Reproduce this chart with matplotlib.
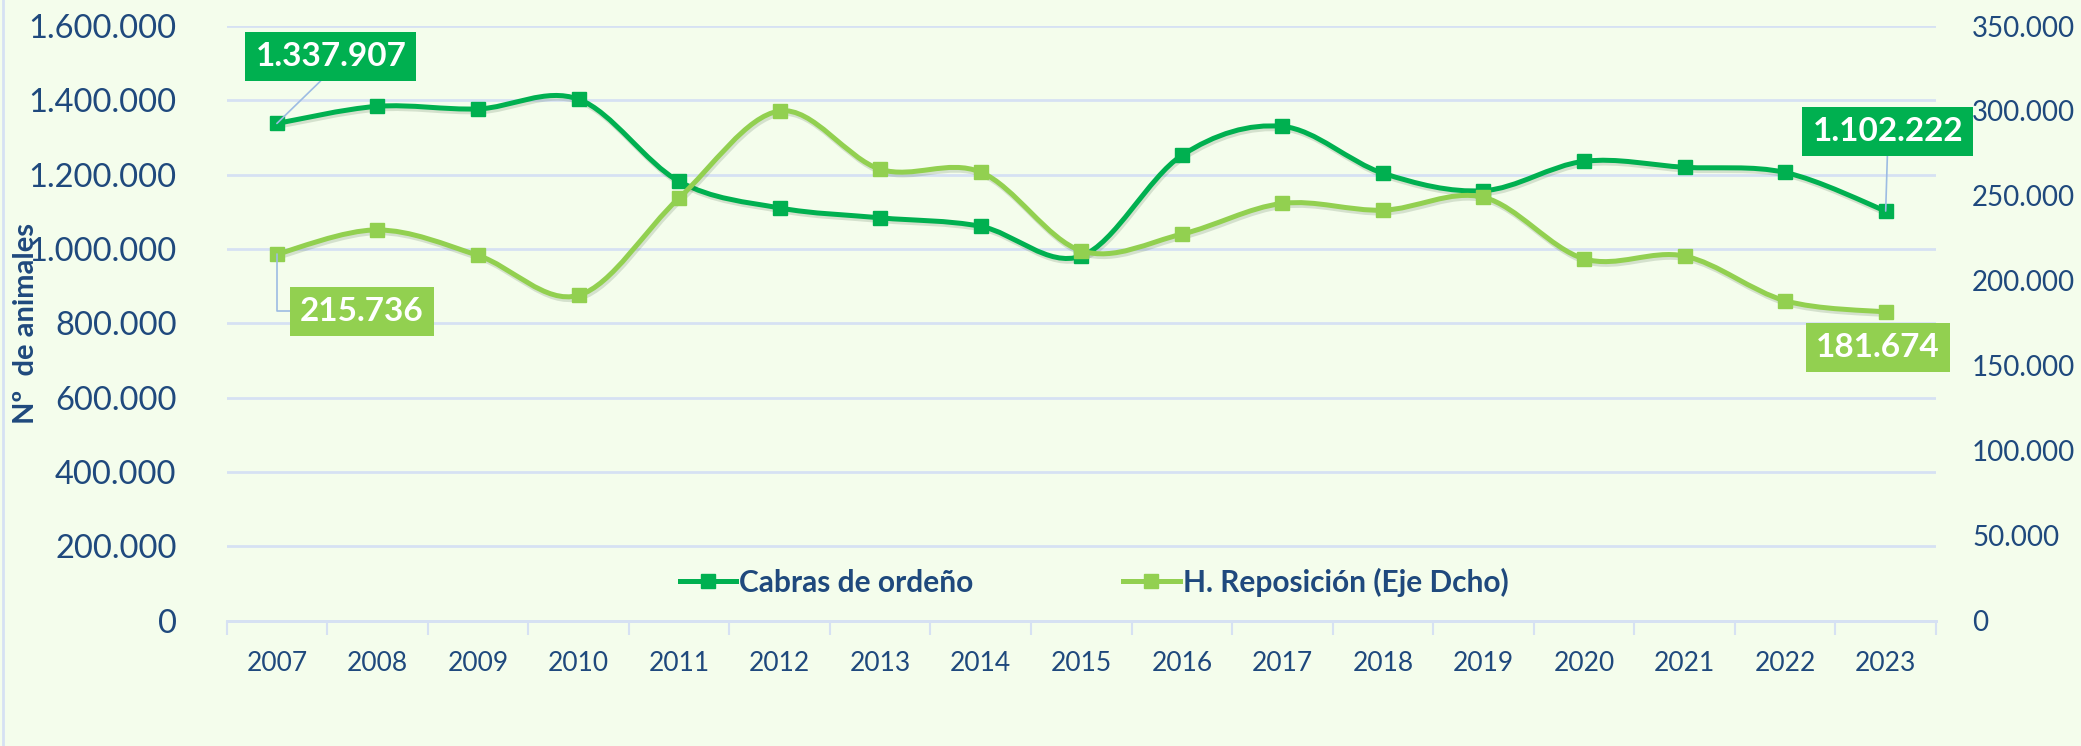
import numpy as np
import matplotlib.pyplot as plt
from matplotlib.path import Path
from matplotlib.patches import PathPatch
from matplotlib.lines import Line2D
import matplotlib.patheffects as pe
from matplotlib.ticker import FuncFormatter, FixedLocator

plt.rcParams['font.family'] = ['Lato', 'DejaVu Sans']

years = [str(y) for y in range(2007, 2024)]
cabras = [1337907, 1384000, 1377000, 1403000, 1182000, 1110500, 1084000, 1061000,
          981000, 1252000, 1330000, 1204000, 1157000, 1236000, 1220000, 1206000, 1102222]
reposicion = [215736, 230000, 215000, 191500, 248800, 300000, 265700, 264000,
              217700, 227500, 245600, 241600, 249200, 213000, 214600, 188300, 181674]

left_ticks = [0, 200000, 400000, 600000, 800000, 1000000, 1200000, 1400000, 1600000]
right_ticks = [0, 50000, 100000, 150000, 200000, 250000, 300000, 350000]

DARK = '#00B050'
LIGHT = '#92D050'
TXT = '#1F497D'
GRID = '#D6E1F3'
BG = '#F4FDEC'


def miles(v, pos=None):
    return f'{int(v):,}'.replace(',', '.')


def smooth_path(xs, ys):
    # excel style smoothed line as cubic bezier segments
    pts = np.column_stack([xs, ys]).astype(float)
    n = len(pts)
    verts = [pts[0]]
    codes = [Path.MOVETO]
    for i in range(n - 1):
        p0 = pts[max(i - 1, 0)]
        p1 = pts[i]
        p2 = pts[i + 1]
        p3 = pts[min(i + 2, n - 1)]
        c1 = p1 + (p2 - p0) / 6.0
        c2 = p2 - (p3 - p1) / 6.0
        verts += [c1, c2, p2]
        codes += [Path.CURVE4] * 3
    return Path(verts, codes)


fig = plt.figure(figsize=(20.81, 7.46), dpi=100, facecolor=BG)
ax = fig.add_axes([0.1089, 0.168, 0.8214, 0.7971])
ax.set_facecolor(BG)
ax2 = ax.twinx()

x = np.arange(len(years))
shadow = [pe.SimpleLineShadow(offset=(1, -2), alpha=0.15, shadow_color='#224422'), pe.Normal()]

p1 = PathPatch(smooth_path(x, cabras), facecolor='none', edgecolor=DARK, lw=3.6,
               capstyle='round', joinstyle='round', zorder=3, path_effects=shadow)
ax.add_patch(p1)
ax.plot(x, cabras, linestyle='none', marker='s', ms=10, color=DARK, zorder=4)

p2 = PathPatch(smooth_path(x, reposicion), facecolor='none', edgecolor=LIGHT, lw=3.6,
               capstyle='round', joinstyle='round', zorder=3, path_effects=shadow)
ax2.add_patch(p2)
ax2.plot(x, reposicion, linestyle='none', marker='s', ms=10, color=LIGHT, zorder=4)

ax.set_xlim(-0.5, len(years) - 0.5)
ax.set_ylim(0, 1600000)
ax2.set_ylim(0, 350000)

ax.yaxis.set_major_locator(FixedLocator(left_ticks))
ax.yaxis.set_major_formatter(FuncFormatter(miles))
ax2.yaxis.set_major_locator(FixedLocator(right_ticks))
ax2.yaxis.set_major_formatter(FuncFormatter(miles))

ax.set_xticks(x)
ax.set_xticklabels(years)
ax.set_xticks(np.arange(-0.5, len(years)), minor=True)
ax.tick_params(axis='x', which='major', length=0, pad=22, labelsize=19, labelcolor=TXT)
ax.tick_params(axis='x', which='minor', length=10, width=1.5, color=GRID)
ax.tick_params(axis='y', length=0, pad=36, labelsize=23.5, labelcolor=TXT)
ax2.tick_params(axis='y', length=0, pad=26, labelsize=20, labelcolor=TXT)
for lab in ax2.get_yticklabels():
    lab.set_horizontalalignment('left')

ax.grid(axis='y', color=GRID, lw=2)
ax.set_axisbelow(True)
for a in (ax, ax2):
    for s in ('left', 'right', 'top'):
        a.spines[s].set_visible(False)
    a.spines['bottom'].set_color(GRID)
    a.spines['bottom'].set_linewidth(2)

fig.text(26 / 2081, 1 - 323.5 / 746, 'Nº  de animales', rotation=90, ha='center', va='center',
         fontsize=21, fontweight='bold', color=TXT)

# data labels
lab_kw = dict(textcoords='offset pixels', ha='center', va='center', fontsize=24,
              fontweight='bold', color='white', zorder=6)
ax.annotate(miles(cabras[0]), xy=(0, cabras[0]), xytext=(54, 67),
            bbox=dict(boxstyle='square,pad=0.3', fc=DARK, ec='none'),
            arrowprops=dict(arrowstyle='-', color='#9DBCE3', lw=1.2, relpos=(0.5, 0),
                            shrinkA=0, shrinkB=0), **lab_kw)
ax.annotate(miles(cabras[-1]), xy=(16, cabras[-1]), xytext=(2, 80),
            bbox=dict(boxstyle='square,pad=0.3', fc=DARK, ec='none'),
            arrowprops=dict(arrowstyle='-', color='#9DBCE3', lw=1.2, relpos=(0.5, 0),
                            shrinkA=0, shrinkB=0), **lab_kw)
ax2.annotate(miles(reposicion[0]), xy=(0, reposicion[0]), xytext=(85, -57),
             bbox=dict(boxstyle='square,pad=0.3', fc=LIGHT, ec='none'),
             arrowprops=dict(arrowstyle='-', color='#9DBCE3', lw=1.2, relpos=(0, 0.5),
                             shrinkA=0, shrinkB=0,
                             connectionstyle='angle,angleA=180,angleB=90,rad=0'), **lab_kw)
ax2.annotate(miles(reposicion[-1]), xy=(16, reposicion[-1]), xytext=(-8, -35),
             bbox=dict(boxstyle='square,pad=0.3', fc=LIGHT, ec='none'), **lab_kw)

handles = [Line2D([], [], color=DARK, lw=3.6, marker='s', ms=10),
           Line2D([], [], color=LIGHT, lw=3.6, marker='s', ms=10)]
leg = fig.legend(handles, ['Cabras de ordeño', 'H. Reposición (Eje Dcho)'],
                 loc='center', bbox_to_anchor=(1094 / 2081, 1 - 582 / 746), ncol=2,
                 frameon=False, handlelength=1.9, handletextpad=0.1, columnspacing=5.0,
                 prop=dict(family=['Lato', 'DejaVu Sans'], weight='bold', size=21.5))
for t in leg.get_texts():
    t.set_color(TXT)

fig.add_artist(Line2D([3 / 2081, 3 / 2081], [0, 1], transform=fig.transFigure,
                      color=GRID, lw=2))

fig.savefig('out.png', dpi=100, facecolor=BG)
